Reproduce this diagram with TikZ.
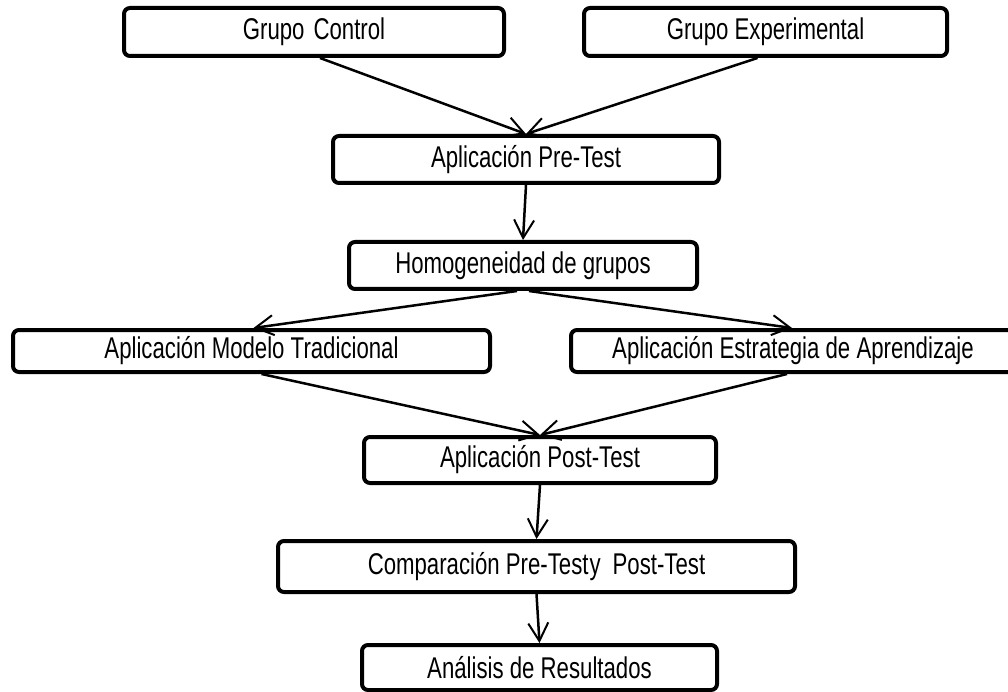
\documentclass[tikz,border=0pt]{standalone}
\usepackage{fontspec}
\setmainfont[FakeStretch=0.74]{Liberation Sans}
\usetikzlibrary{arrows.meta}
\begin{document}
\begin{tikzpicture}[x=1pt,y=-1pt,
  box/.style={draw=black, line width=4pt, rounded corners=6pt, inner sep=0pt,
    font=\fontsize{30}{36}\selectfont, fill=white},
  conn/.style={line width=2.5pt, -{Straight Barb[length=18pt,width=20pt,line width=2pt]}}]
\path[use as bounding box, fill=white] (0,0) rectangle (1008,692);
\begin{scope}
\clip (0,0) rectangle (1008,692);
\node[box, minimum width=380pt, minimum height=48pt] (gc) at (314,32) {Grupo\hspace{9pt}Control};
\node[box, minimum width=363pt, minimum height=48pt] (ge) at (765.5,32) {Grupo Experimental};
\node[box, minimum width=386pt, minimum height=47pt] (pre) at (526,159.5) {Aplicación Pre-Test};
\node[box, minimum width=348pt, minimum height=47pt] (hom) at (523,265.5) {Homogeneidad de grupos};
\node[box, minimum width=477pt, minimum height=42pt] (mod) at (251.5,351) {Aplicación Modelo Tradicional};
\node[box, minimum width=444pt, minimum height=42pt] (est) at (793,351) {Aplicación Estrategia de Aprendizaje};
\node[box, minimum width=352pt, minimum height=46pt] (post) at (540,460) {Aplicación Post-Test};
\node[box, minimum width=517pt, minimum height=51pt] (comp) at (536.5,566.5) {Comparación Pre-Test\hspace{1pt}y\hspace{12pt}Post-Test};
\node[box, minimum width=355pt, minimum height=45pt] (ana) at (539.5,667.5) {Análisis de Resultados};

\draw[conn] ([xshift=6pt]gc.south) -- (pre.north);
\draw[conn] ([xshift=-8pt]ge.south) -- (pre.north);
\draw[conn] (pre.south) -- (hom.north);
\draw[conn] ([xshift=-6pt]hom.south) -- ([xshift=2pt]mod.north);
\draw[conn] ([xshift=6pt]hom.south) -- ([xshift=-1pt]est.north);
\draw[conn] ([xshift=10pt]mod.south) -- (post.north);
\draw[conn] ([xshift=-6pt]est.south) -- (post.north);
\draw[conn] (post.south) -- (comp.north);
\draw[conn] (comp.south) -- (ana.north);
\end{scope}
\end{tikzpicture}
\end{document}
